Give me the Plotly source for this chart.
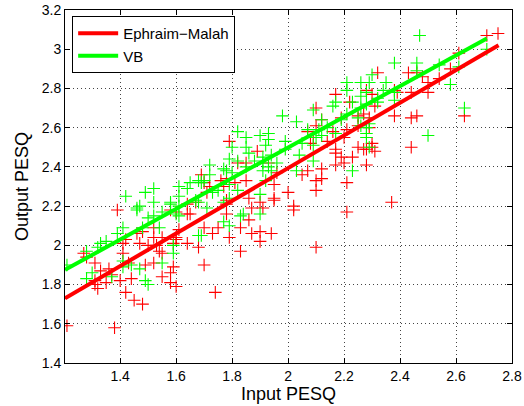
import plotly.graph_objects as go

# ---------------- data ----------------
red_x = [1.21, 1.38, 1.39, 1.27, 1.28, 1.31, 1.33, 1.31, 1.31, 1.32, 1.36, 1.35, 1.37, 1.40, 1.44,
         1.42, 1.45, 1.48, 1.41, 1.41, 1.42, 1.43, 1.46, 1.47, 1.48, 1.50, 1.49, 1.52, 1.52, 1.54,
         1.55, 1.55, 1.58, 1.58, 1.60, 1.60, 1.61, 1.59, 1.64,
         1.79, 1.89, 1.85, 1.93, 1.96, 1.69, 1.70, 1.71, 1.76, 1.78, 1.81, 1.85, 1.86, 1.90, 1.87,
         1.95, 1.91, 1.78, 1.78, 1.64, 1.67, 1.65, 1.60, 1.58, 1.70, 1.75, 1.73, 1.83, 1.86, 1.87,
         1.90, 1.79, 1.83, 1.68, 1.70, 1.59, 1.53, 1.52, 1.55, 1.60, 1.64,
         2.17, 2.27, 2.22, 2.10, 2.19, 2.09, 2.07, 2.16, 2.14, 2.21, 2.17, 2.19, 2.17, 2.20, 2.23,
         2.28, 2.25, 2.12, 2.12, 2.07, 2.05, 2.10, 2.10, 2.21, 1.95, 2.00, 1.95, 2.02,
         2.75, 2.71, 2.61, 2.58, 2.32, 2.43, 2.46, 2.48, 2.50, 2.38, 2.39, 2.44, 2.50, 2.54, 2.28,
         2.30, 2.31, 2.38, 2.44, 2.46, 2.63, 2.29, 2.29, 2.30, 2.27, 2.31, 2.44,
         2.10, 1.90, 1.94, 1.74, 2.02, 2.37, 2.21,
         2.25, 2.08, 2.10, 2.12, 2.20, 2.25, 2.28, 2.17, 2.30, 1.82, 1.72, 1.77, 1.78]
red_y = [1.59, 1.58, 2.18, 1.96, 1.94, 1.91, 1.87, 1.82, 1.80, 1.78, 1.88, 1.81, 1.85, 1.82, 1.83,
         1.76, 1.72, 1.70, 1.96, 2.01, 2.03, 1.91, 2.06, 2.01, 2.07, 2.00, 1.90, 2.04, 1.91, 1.97,
         1.84, 1.96, 1.81, 1.86, 1.79, 2.04, 2.08, 2.01, 2.16,
         2.53, 2.48, 2.42, 2.42, 2.37, 2.36, 2.32, 2.27, 2.33, 2.34, 2.32, 2.33, 2.24, 2.22, 2.19,
         2.23, 2.19, 2.21, 2.16, 2.21, 2.22, 2.16, 2.17, 2.18, 2.09, 2.09, 2.06, 2.09, 2.13, 2.06,
         2.07, 2.04, 1.97, 1.99, 1.90, 1.89, 2.00, 2.09, 2.04, 2.03, 2.01,
         2.77, 2.67, 2.73, 2.70, 2.65, 2.55, 2.58, 2.58, 2.53, 2.59, 2.49, 2.45, 2.41, 2.42, 2.45,
         2.49, 2.50, 2.39, 2.34, 2.38, 2.36, 2.33, 2.28, 2.32, 2.31, 2.27, 2.24, 2.20,
         3.08, 3.07, 2.98, 2.90, 2.88, 2.88, 2.88, 2.86, 2.83, 2.79, 2.78, 2.78, 2.78, 2.85, 2.79,
         2.77, 2.71, 2.66, 2.65, 2.66, 2.66, 2.65, 2.60, 2.52, 2.49, 2.48, 2.50,
         1.99, 2.02, 2.06, 1.76, 2.18, 2.22, 2.17,
         2.66, 2.52, 2.61, 2.64, 2.55, 2.61, 2.41, 2.47, 2.50, 2.42, 2.30, 2.30, 2.23]

green_x = [1.21, 1.28, 1.28, 1.30, 1.32, 1.33, 1.35, 1.37, 1.39, 1.41, 1.41, 1.41, 1.44, 1.46, 1.47,
           1.47, 1.49, 1.50, 1.50, 1.52, 1.52, 1.48, 1.54, 1.55, 1.58, 1.59, 1.60, 1.61, 1.69, 1.84,
           1.90, 1.77, 1.42, 1.49, 1.52, 1.46, 1.61, 1.68, 1.61, 1.64, 1.65, 1.70, 1.72, 1.77, 1.78,
           1.79, 1.80, 1.82, 1.85, 1.90, 1.93, 1.92, 1.85, 1.86, 1.82, 1.91, 1.94, 1.80, 1.72, 1.68,
           1.69, 1.75, 1.79, 1.58, 1.67, 1.73, 1.77, 1.79, 1.82, 1.83, 1.79, 1.71, 1.61, 1.55, 1.68,
           1.59, 1.90,
           2.21, 2.26, 2.29, 2.21, 2.17, 2.16, 2.26, 2.23, 2.09, 1.98, 2.03, 2.12, 2.19, 2.21, 2.25,
           2.26, 2.28, 2.07, 2.11, 2.14, 2.17, 2.12, 2.10, 1.93, 1.99, 2.05, 2.09, 1.99, 2.04, 1.88,
           1.91, 1.93, 1.96, 1.85, 1.91, 1.94, 1.92, 2.09, 2.03, 2.23, 2.29, 2.28,
           2.47, 2.71, 2.61, 2.38, 2.46, 2.54, 2.46, 2.58, 2.63, 2.50, 2.30, 2.35, 2.34, 2.38, 2.32,
           2.28, 2.38, 2.28, 2.32, 2.26, 2.29, 2.28]
green_y = [1.90, 1.97, 1.83, 1.86, 1.99, 2.01, 2.02, 1.84, 2.06, 2.09, 1.92, 1.89, 1.90, 2.18, 2.20,
           1.88, 1.82, 1.80, 2.14, 2.15, 2.22, 2.09, 2.09, 1.91, 2.21, 1.96, 2.16, 2.20, 2.05, 2.16,
           2.16, 2.12, 2.25, 2.27, 2.29, 2.19, 2.25, 2.22, 2.30, 2.29, 2.32, 2.33, 2.41, 2.39, 2.38,
           2.44, 2.50, 2.58, 2.55, 2.56, 2.57, 2.51, 2.50, 2.47, 2.43, 2.45, 2.46, 2.37, 2.36, 2.33,
           2.32, 2.28, 2.31, 2.22, 2.23, 2.27, 2.22, 2.24, 2.28, 2.15, 2.10, 2.19, 2.15, 2.17, 2.05,
           2.00, 2.26,
           2.83, 2.83, 2.83, 2.79, 2.73, 2.71, 2.76, 2.73, 2.69, 2.66, 2.63, 2.64, 2.64, 2.67, 2.65,
           2.61, 2.60, 2.59, 2.59, 2.60, 2.57, 2.56, 2.55, 2.54, 2.53, 2.52, 2.51, 2.49, 2.46, 2.43,
           2.42, 2.40, 2.42, 2.40, 2.38, 2.38, 2.33, 2.43, 2.38, 2.38, 2.50, 2.55,
           3.07, 3.00, 2.91, 2.93, 2.93, 2.92, 2.89, 2.82, 2.70, 2.56, 2.87, 2.83, 2.79, 2.74, 2.75,
           2.78, 2.78, 2.72, 2.73, 2.70, 2.62, 2.57]

# regression lines (end points)
fit_x = [1.203, 2.752]
red_fit_y = [1.73, 3.02]
green_fit_x = [1.203, 2.71]
green_fit_y = [1.875, 3.055]

series_names = ["Ephraim\u2212Malah", "VB"]
x_ticks = [1.4, 1.6, 1.8, 2.0, 2.2, 2.4, 2.6, 2.8]
x_tick_text = ["1.4", "1.6", "1.8", "2", "2.2", "2.4", "2.6", "2.8"]
y_ticks = [1.4, 1.6, 1.8, 2.0, 2.2, 2.4, 2.6, 2.8, 3.0, 3.2]
y_tick_text = ["1.4", "1.6", "1.8", "2", "2.2", "2.4", "2.6", "2.8", "3", "3.2"]

RED = "#ff0000"
GREEN = "#00ff00"
FONT = "Liberation Sans, Arial, Helvetica, sans-serif"

fig = go.Figure()
fig.add_trace(go.Scatter(x=red_x, y=red_y, mode="markers", showlegend=False,
                         marker=dict(symbol="cross-thin", size=9, color=RED,
                                     line=dict(color=RED, width=1.1))))
fig.add_trace(go.Scatter(x=green_x, y=green_y, mode="markers", showlegend=False,
                         marker=dict(symbol="cross-thin", size=9, color=GREEN,
                                     line=dict(color=GREEN, width=1.1))))
fig.add_trace(go.Scatter(x=fit_x, y=red_fit_y, mode="lines", name=series_names[0],
                         line=dict(color=RED, width=4)))
fig.add_trace(go.Scatter(x=green_fit_x, y=green_fit_y, mode="lines", name=series_names[1],
                         line=dict(color=GREEN, width=4)))

axis_common = dict(showline=True, linecolor="black", linewidth=1, mirror="ticks",
                   ticks="inside", ticklen=5, tickcolor="black",
                   showgrid=True, gridcolor="#444444", griddash="1px,3px", gridwidth=1,
                   zeroline=False, tickfont=dict(family=FONT, size=14, color="black"))

fig.update_xaxes(range=[1.203, 2.8], tickvals=x_ticks, ticktext=x_tick_text,
                 title=dict(text="Input PESQ", font=dict(family=FONT, size=18, color="black"),
                            standoff=2),
                 **axis_common)
fig.update_yaxes(range=[1.4, 3.2], tickvals=y_ticks, ticktext=y_tick_text,
                 title=dict(text="Output PESQ", font=dict(family=FONT, size=18, color="black"),
                            standoff=8),
                 **axis_common)

fig.update_layout(
    width=524, height=406,
    margin=dict(l=65, r=12, t=10, b=43, autoexpand=False),
    paper_bgcolor="white", plot_bgcolor="white",
    font=dict(family=FONT, size=14, color="black"),
    legend=dict(x=0.016, y=0.983, xanchor="left", yanchor="top",
                bgcolor="white", bordercolor="black", borderwidth=1,
                font=dict(family=FONT, size=15, color="black"),
                tracegroupgap=0, itemwidth=40),
)

fig.write_html("out.html", config={"displayModeBar": False},
               post_script="document.body.style.margin='0';document.body.style.overflow='hidden';")
